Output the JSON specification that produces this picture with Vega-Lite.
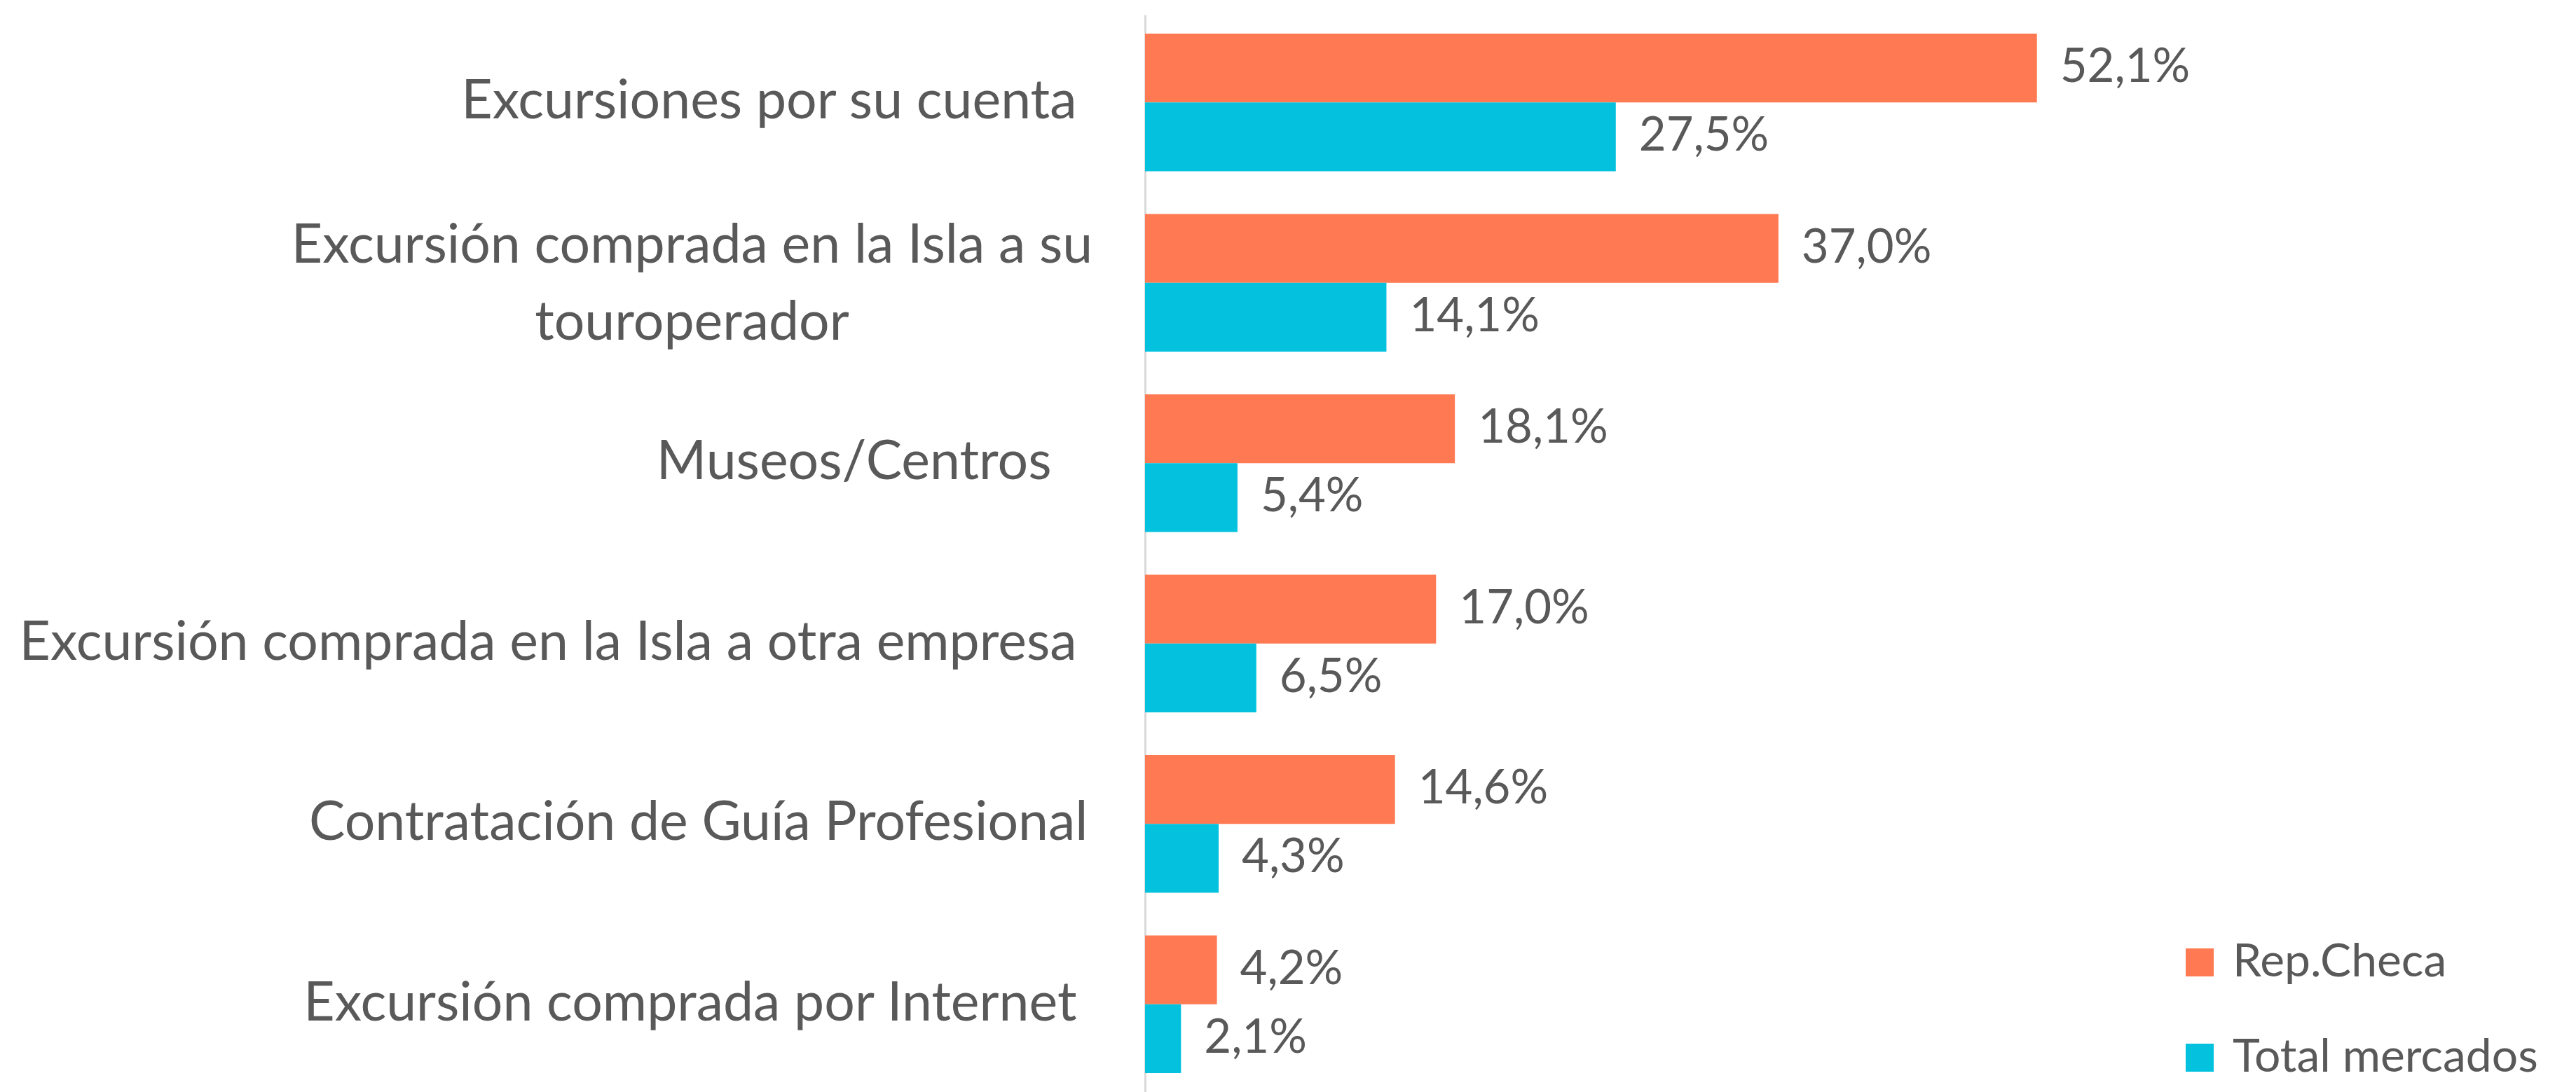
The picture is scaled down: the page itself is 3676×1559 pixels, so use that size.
{
  "$schema": "https://vega.github.io/schema/vega-lite/v6.json",
  "width": 2042,
  "height": 1538,
  "autosize": "none",
  "padding": {"left": 1634, "top": 21, "right": 0, "bottom": 0},
  "background": "white",
  "config": {"view": {"stroke": null}, "font": "Lato"},
  "data": {"values": [
    {"cat": "Excursiones por su cuenta", "serie": "Rep.Checa", "v": 52.1},
    {"cat": "Excursiones por su cuenta", "serie": "Total mercados", "v": 27.5},
    {"cat": "Excursión comprada en la Isla a su touroperador", "serie": "Rep.Checa", "v": 37.0},
    {"cat": "Excursión comprada en la Isla a su touroperador", "serie": "Total mercados", "v": 14.1},
    {"cat": "Museos/Centros", "serie": "Rep.Checa", "v": 18.1},
    {"cat": "Museos/Centros", "serie": "Total mercados", "v": 5.4},
    {"cat": "Excursión comprada en la Isla a otra empresa", "serie": "Rep.Checa", "v": 17.0},
    {"cat": "Excursión comprada en la Isla a otra empresa", "serie": "Total mercados", "v": 6.5},
    {"cat": "Contratación de Guía Profesional", "serie": "Rep.Checa", "v": 14.6},
    {"cat": "Contratación de Guía Profesional", "serie": "Total mercados", "v": 4.3},
    {"cat": "Excursión comprada por Internet", "serie": "Rep.Checa", "v": 4.2},
    {"cat": "Excursión comprada por Internet", "serie": "Total mercados", "v": 2.1}
  ]},
  "transform": [
    {"calculate": "replace(format(datum.v, '.1f'), '.', ',') + '%'", "as": "label"}
  ],
  "encoding": {
    "y": {
      "field": "cat", "type": "nominal", "sort": null, "title": null,
      "scale": {"paddingInner": 0.237, "paddingOuter": 0.105},
      "axis": {
        "domainColor": "#D9D9D9", "domainWidth": 3, "ticks": false, "grid": false,
        "labelFont": "Lato", "labelFontSize": 77, "labelColor": "#595959", "labelLimit": 2000,
        "labelLineHeight": 110,
        "labelExpr": "datum.value == 'Excursión comprada en la Isla a su touroperador' ? ['Excursión comprada en la Isla a su', 'touroperador'] : datum.value",
        "labelAlign": {"condition": {"test": "datum.value == 'Excursión comprada en la Isla a su touroperador'", "value": "center"}, "value": "right"},
        "labelOffset": {"condition": {"test": "datum.value == 'Excursión comprada en la Isla a su touroperador'", "value": -52}, "value": 0},
        "labelPadding": {"condition": [
          {"test": "datum.value == 'Excursión comprada en la Isla a su touroperador'", "value": 647},
          {"test": "datum.value == 'Museos/Centros'", "value": 134},
          {"test": "datum.value == 'Contratación de Guía Profesional'", "value": 82}
        ], "value": 98}
      }
    },
    "yOffset": {"field": "serie", "type": "nominal", "sort": ["Rep.Checa", "Total mercados"]},
    "x": {"field": "v", "type": "quantitative", "scale": {"domain": [0, 83.59]}, "axis": null}
  },
  "layer": [
    {
      "mark": {"type": "bar"},
      "encoding": {
        "color": {
          "field": "serie", "type": "nominal",
          "scale": {"domain": ["Rep.Checa", "Total mercados"], "range": ["#FF7A53", "#04C2DE"]},
          "legend": {
            "title": null, "orient": "none", "legendX": 1472, "legendY": 1320,
            "symbolType": "square", "symbolSize": 1600, "symbolStrokeWidth": 0,
            "labelFont": "Lato", "labelFontSize": 66, "labelColor": "#595959",
            "labelOffset": 14, "rowPadding": 70, "labelLimit": 1000
          }
        }
      }
    },
    {
      "mark": {"type": "text", "align": "left", "baseline": "middle", "dx": 33, "font": "Lato", "fontSize": 67, "color": "#595959"},
      "encoding": {"text": {"field": "label"}}
    }
  ]
}
